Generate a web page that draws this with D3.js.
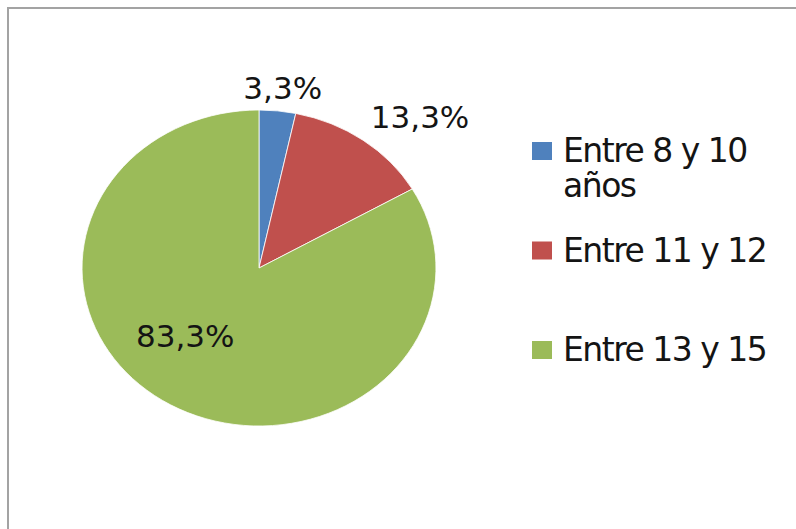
<!DOCTYPE html>
<html>
<head>
<meta charset="utf-8">
<script src="https://cdn.jsdelivr.net/npm/d3@7"></script>
<style>
  html, body { margin: 0; padding: 0; background: #fff; }
  svg { display: block; }
  text { font-family: "DejaVu Sans", sans-serif; fill: #141414; }
</style>
</head>
<body>
<svg id="chart"></svg>
<script>
'use strict'

// data
const categories = ['Entre 8 y 10 años', 'Entre 11 y 12', 'Entre 13 y 15']
const counts = [1, 4, 25]
const percentLabels = ['3,3%', '13,3%', '83,3%']
const colors = ['#4F81BD', '#C0504D', '#9BBB59']

// layout
const width = 796, height = 529
const center = {x: 259, y: 268}
const radius = 158
const stretchX = 1.12 // the pie is drawn a bit wider than tall
const labelRadius = [1.15, 1.32, 0.6] // label distance, in radii
const labelShift = [0.7, 7.6, 14] // degrees added to the slice middle

const svg = d3.select('#chart')
  .attr('width', width)
  .attr('height', height)

// frame
svg.append('rect')
  .attr('x', 8).attr('y', 8)
  .attr('width', width + 20).attr('height', height + 20)
  .attr('fill', 'none')
  .attr('stroke', '#a3a3a3')
  .attr('stroke-width', 2)

// pie
const pie = d3.pie().sort(null).value(d => d)
const arcs = pie(counts)
const arc = d3.arc().innerRadius(0).outerRadius(radius)

const pieG = svg.append('g')
  .attr('transform', `translate(${center.x},${center.y}) scale(${stretchX},1)`)

pieG.selectAll('path')
  .data(arcs)
  .enter().append('path')
    .attr('d', arc)
    .attr('fill', (d, i) => colors[i])
    .attr('stroke', '#fff')
    .attr('stroke-width', 0.8)
    .attr('vector-effect', 'non-scaling-stroke')

// percentage labels
const fontSize = 31
svg.selectAll('text.pct')
  .data(arcs)
  .enter().append('text')
    .attr('class', 'pct')
    .attr('text-anchor', 'middle')
    .style('font-size', fontSize + 'px')
    .attr('x', (d, i) => {
      const a = (d.startAngle + d.endAngle) / 2 + labelShift[i] * Math.PI / 180
      return center.x + Math.sin(a) * radius * labelRadius[i] * stretchX
    })
    .attr('y', (d, i) => {
      const a = (d.startAngle + d.endAngle) / 2 + labelShift[i] * Math.PI / 180
      return center.y - Math.cos(a) * radius * labelRadius[i] + fontSize * 0.36
    })
    .text((d, i) => percentLabels[i])

// legend
const legendY = d3.scalePoint().domain(categories).range([162, 361])
const legendFont = 33
const legendLines = {'Entre 8 y 10 años': ['Entre 8 y 10', 'años']}

const legend = svg.selectAll('g.legend')
  .data(categories)
  .enter().append('g')
    .attr('class', 'legend')
    .attr('transform', d => `translate(0,${legendY(d)})`)

legend.append('rect')
  .attr('x', 532)
  .attr('y', -20)
  .attr('width', 20)
  .attr('height', 18)
  .attr('fill', (d, i) => colors[i])

legend.append('text')
  .attr('x', 563)
  .style('font-size', legendFont + 'px')
  .style('letter-spacing', '-1.5px')
  .selectAll('tspan')
  .data(d => legendLines[d] || [d])
  .enter().append('tspan')
    .attr('x', 563)
    .attr('dy', (d, i) => i === 0 ? 0 : 35)
    .text(d => d)
</script>
</body>
</html>
